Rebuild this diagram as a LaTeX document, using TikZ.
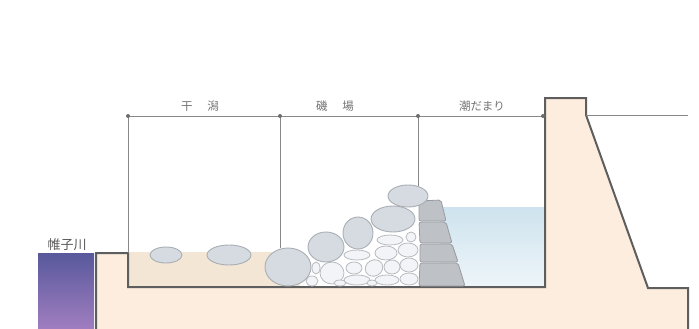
\documentclass[tikz,border=0pt]{standalone}
\usepackage{fontspec}
\newfontfamily\jp{Noto Sans CJK JP}
\definecolor{ground}{HTML}{FCEDDF}
\definecolor{sand}{HTML}{F4E6D4}
\definecolor{outline}{HTML}{5E5E5E}
\definecolor{guide}{HTML}{888888}
\definecolor{rockfill}{HTML}{D6DBE1}
\definecolor{rockline}{HTML}{A9AEB4}
\definecolor{pebfill}{HTML}{F3F4F7}
\definecolor{pebline}{HTML}{B7BBC0}
\definecolor{blockfill}{HTML}{BEC1C5}
\definecolor{blockline}{HTML}{989CA1}
\definecolor{labeltext}{HTML}{747474}
\tikzset{
  rock/.style={fill=rockfill, draw=rockline, line width=0.9pt},
  pebble/.style={fill=pebfill, draw=pebline, line width=0.8pt},
  block/.style={fill=blockfill, draw=blockline, line width=0.8pt, rounded corners=2pt},
  guideline/.style={draw=guide, line width=0.9pt},
  dot/.style={fill=guide!80!black},
  zone/.style={font=\jp\fontsize{11.5}{12}\selectfont, text=labeltext, inner sep=0pt},
  river label/.style={font=\jp\fontsize{13}{14}\selectfont, text=labeltext!75!black, inner sep=0pt}
}
\begin{document}
\begin{tikzpicture}[x=1pt,y=-1pt]
\useasboundingbox (0,0) rectangle (699,329);

% river
\shade[top color={rgb,255:red,88;green,88;blue,156}, bottom color={rgb,255:red,160;green,126;blue,192}]
  (38,253) rectangle (94,329);

% ground body
\fill[ground] (96,329) -- (96,253) -- (128,253) -- (128,287) -- (545,287) -- (545,98)
  -- (586,98) -- (586,115) -- (648,288) -- (688,288) -- (688,329) -- cycle;

% sand of the tidal flat
\fill[sand] (128,252) rectangle (300,287);

% water of the tide pool
\shade[top color={rgb,255:red,206;green,227;blue,238}, bottom color={rgb,255:red,238;green,245;blue,249}]
  (440,207) rectangle (545,287);

% outline of the ground and sea wall
\draw[outline, line width=2pt, line join=miter] (96,329) -- (96,253) -- (128,253) -- (128,287) -- (545,287)
  -- (545,98) -- (586,98) -- (586,115) -- (648,288) -- (688,288) -- (688,329);

% small stones between the rocks
\foreach \x/\y/\rx/\ry/\a in {
  411/237/5/5/0, 390/240/13/5/0, 357/255/13/5/0, 386/253/11/7/0, 408/250/10/7/0,
  316/268/4/6/0, 332/273/12/11/0, 354/268/8/6/0, 374/268/9/8/30, 392/267/8/7/0,
  409/265/9/7/0, 312/281/6/5/0, 357/280/13/5/0, 387/280/12/5/0, 409/279/9/6/0,
  340/283/6/3/0, 372/283/5/3/0}
  \draw[pebble, rotate around={\a:(\x,\y)}] (\x,\y) ellipse[x radius=\rx, y radius=\ry];

% concrete blocks of the tide pool wall
\draw[block] (419,201) -- (441,200) -- (446,221) -- (419,221) -- cycle;
\draw[block] (419,222) -- (446,222) -- (452,243) -- (420,243) -- cycle;
\draw[block] (420,244) -- (452,244) -- (458,262) -- (420,262) -- cycle;
\draw[block] (420,263) -- (458,263) -- (465,286) -- (419,286) -- cycle;

% large rocks
\draw[rock] (166,255) ellipse[x radius=16, y radius=8];
\draw[rock] (229,255) ellipse[x radius=22, y radius=10];
\draw[rock] (408,196) ellipse[x radius=20, y radius=11];
\draw[rock] (393,219) ellipse[x radius=22, y radius=13];
\draw[rock] (358,233) ellipse[x radius=15, y radius=16];
\draw[rock] (326,247) ellipse[x radius=18, y radius=15];
\draw[rock] (288,267) ellipse[x radius=23, y radius=19];

% guide line with zone markers
\coordinate (g0) at (128,116);
\coordinate (g1) at (280,116);
\coordinate (g2) at (418,116);
\coordinate (g3) at (543,116);
\coordinate (g4) at (586,115);
\coordinate (g5) at (688,115);
\coordinate (b0) at (128,253);
\coordinate (b1) at (280,248);
\coordinate (b2) at (418,186);
\draw[guideline] (g0) -- (g3);
\draw[guideline] (g4) -- (g5);
\draw[guideline] (g0) -- (b0);
\draw[guideline] (g1) -- (b1);
\draw[guideline] (g2) -- (b2);
\foreach \p in {g0,g1,g2,g3} \fill[dot] (\p) circle[radius=2];

% labels
\node[zone] (flat) at (200,106) {干\hspace{1.3em}潟};
\node[zone] (shore) at (335,106) {磯\hspace{1.3em}場};
\node[zone] (pool) at (482,106) {潮だまり};
\node[river label] (river) at (67,245) {帷子川};
\end{tikzpicture}
\end{document}
